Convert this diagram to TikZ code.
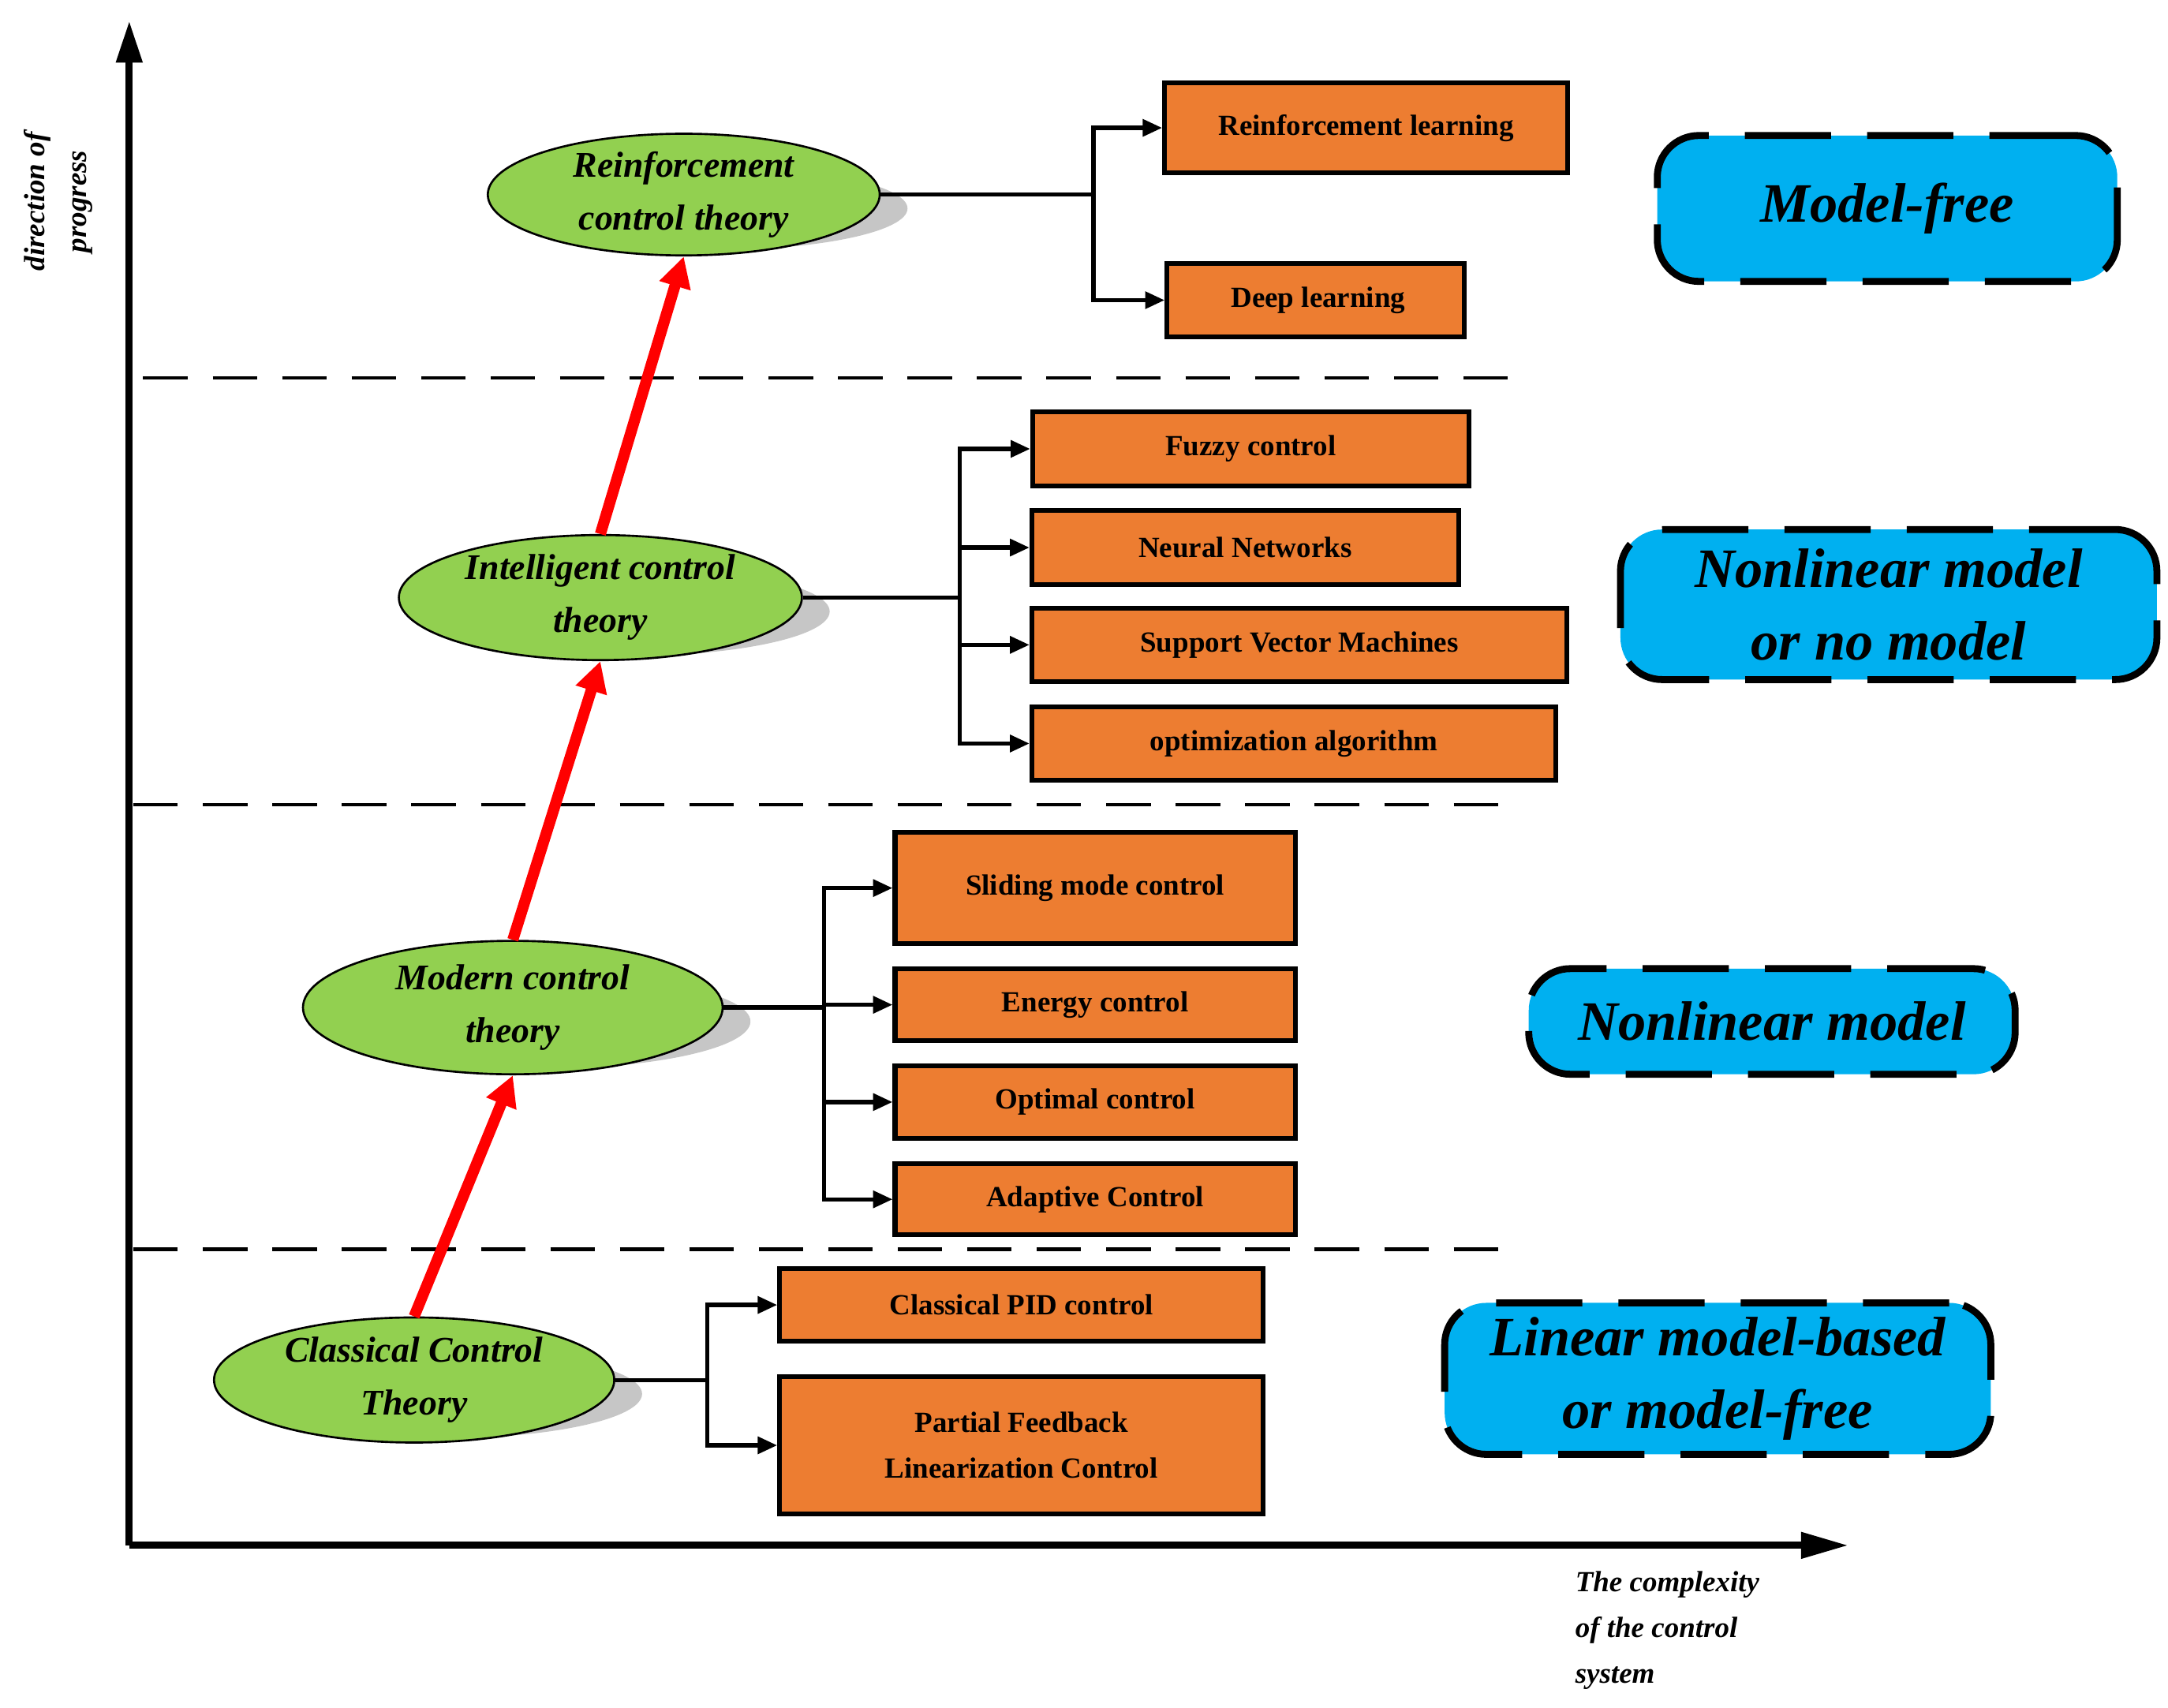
\documentclass[tikz,border=0pt]{standalone}
\usepackage{fontspec}
\setmainfont{Liberation Serif}
\usetikzlibrary{arrows.meta,shapes.geometric}
\definecolor{og}{HTML}{ED7D31}
\definecolor{gr}{HTML}{92D050}
\definecolor{bl}{HTML}{00B0F0}
\begin{document}
\begin{tikzpicture}[x=1pt,y=-1pt,
 box/.style={draw=black,line width=3.5pt,fill=og,inner sep=0pt,align=center,font=\fontsize{21}{33}\selectfont\bfseries},
 ell/.style={draw=black,line width=1.5pt,fill=gr,ellipse,inner sep=0pt,align=center,font=\fontsize{26}{38}\selectfont\bfseries\itshape},
 conn/.style={line width=3pt,-{Triangle[length=14pt,width=12pt]}},
 prog/.style={red,line width=8pt,-{Triangle[length=22pt,width=22pt]}},
 zone/.style={draw=black,line width=5pt,dash pattern=on 62pt off 26pt,fill=bl,rounded corners=30pt,align=center,font=\fontsize{40}{52}\selectfont\bfseries\itshape},
 sep/.style={line width=2.5pt,dash pattern=on 32pt off 18pt}]
\useasboundingbox (0,0) rectangle (1560,1229);
% axes
\coordinate (o) at (93,1112);
\coordinate (ytop) at (93,15);
\coordinate (xend) at (1330,1112);
\draw[line width=5pt,-{Triangle[length=30pt,width=18pt]}] (o) -- (ytop);
\draw[line width=5pt,-{Triangle[length=34pt,width=18pt]}] (o) -- (xend);
\node[rotate=90,align=center,font=\fontsize{21}{30}\selectfont\bfseries\itshape] (dir) at (42,145) {direction of\\progress};
\node[anchor=north west,align=left,font=\fontsize{21}{33}\selectfont\bfseries\itshape] (cx) at (1130,1127) {The complexity\\of the control\\system};
% separators
\coordinate (s1a) at (103,272); \coordinate (s1b) at (1100,272);
\coordinate (s2a) at (96,579); \coordinate (s2b) at (1095,579);
\coordinate (s3a) at (96,899); \coordinate (s3b) at (1090,899);
\draw[sep] (s1a)--(s1b); \draw[sep] (s2a)--(s2b); \draw[sep] (s3a)--(s3b);
% shadows
\fill[gray!45] (512,150) ellipse [x radius=141,y radius=30];
\fill[gray!45] (452,440) ellipse [x radius=145,y radius=32];
\fill[gray!45] (389,735) ellipse [x radius=151,y radius=34];
\fill[gray!45] (318,1003) ellipse [x radius=144,y radius=32];
% ellipses
\node[ell,minimum width=282pt,minimum height=84pt] (e4) at (492,140) {Reinforcement\\control theory};
\node[ell,minimum width=290pt,minimum height=90pt] (e3) at (432,430) {Intelligent control\\theory};
\node[ell,minimum width=302pt,minimum height=96pt] (e2) at (369,725) {Modern control\\theory};
\node[ell,minimum width=288pt,minimum height=90pt] (e1) at (298,993) {Classical Control\\Theory};
\draw[prog] (e1.north) -- (e2.south);
\draw[prog] (e2.north) -- (e3.south);
\draw[prog] (e3.north) -- (e4.south);
% boxes
\node[box,minimum width=290pt,minimum height=65pt] (rl) at (983,92) {Reinforcement learning};
\node[box,minimum width=214pt,minimum height=53pt,anchor=west] (dl) at (838,216) {\,Deep learning};
\node[box,minimum width=314pt,minimum height=53pt] (fz) at (900,323) {Fuzzy control};
\node[box,minimum width=307pt,minimum height=53pt] (nn) at (896,394) {Neural Networks};
\node[box,minimum width=385pt,minimum height=53pt] (svm) at (935,464) {Support Vector Machines};
\node[box,minimum width=377pt,minimum height=53pt] (opt) at (931,535) {optimization algorithm};
\node[box,minimum width=288pt,minimum height=80pt] (smc) at (788,639) {Sliding mode control};
\node[box,minimum width=288pt,minimum height=52pt] (en) at (788,723) {Energy control};
\node[box,minimum width=288pt,minimum height=52pt] (oc) at (788,793) {Optimal control};
\node[box,minimum width=288pt,minimum height=51pt] (ac) at (788,863) {Adaptive Control};
\node[box,minimum width=348pt,minimum height=52pt] (pid) at (735,939) {Classical PID control};
\node[box,minimum width=348pt,minimum height=99pt] (pf) at (735,1040) {Partial Feedback\\Linearization Control};
% connectors
\draw[line width=3pt] (e4.east) -- ++(153,0) coordinate (t4);
\draw[conn] (t4) |- (rl.west); \draw[conn] (t4) |- (dl.west);
\draw[line width=3pt] (e3.east) -- ++(113,0) coordinate (t3);
\foreach \b in {fz,nn,svm,opt} \draw[conn] (t3) |- (\b.west);
\draw[line width=3pt] (e2.east) -- ++(72,0) coordinate (t2);
\foreach \b in {smc,en,oc,ac} \draw[conn] (t2) |- (\b.west);
\draw[line width=3pt] (e1.east) -- ++(66,0) coordinate (t1);
\foreach \b in {pid,pf} \draw[conn] (t1) |- (\b.west);
% zones
\node[zone,minimum width=331pt,minimum height=105pt] (z4) at (1358,150) {Model-free};
\node[zone,minimum width=386pt,minimum height=108pt] (z3) at (1359,435) {Nonlinear model\\or no model};
\node[zone,minimum width=350pt,minimum height=76pt] (z2) at (1275,735) {Nonlinear model};
\node[zone,minimum width=393pt,minimum height=109pt] (z1) at (1236,992) {Linear model-based\\or model-free};
\end{tikzpicture}
\end{document}
